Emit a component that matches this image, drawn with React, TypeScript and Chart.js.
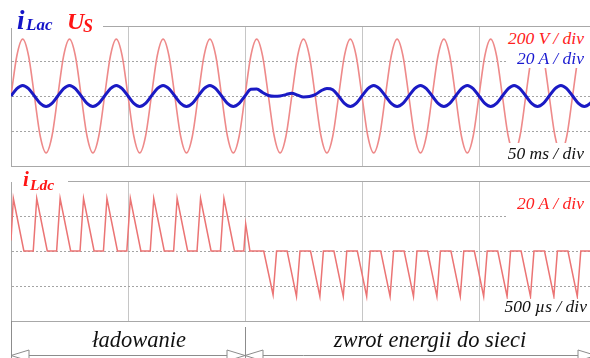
import React, { useEffect, useRef } from "react";
import { Chart, registerables } from "chart.js";

Chart.register(...registerables);

// ---------- Top panel: grid voltage U_S and AC current i_Lac (50 ms/div) ----------
const AC_SAMPLE_STEP_MS = 2.5; // one sample every 45 degrees of the 50 Hz wave
const AC_X_MAX_MS = 250;
const AC_X_STEP_MS = 50;
const VOLT_PER_DIV = 200;
const AC_AMP_PER_DIV = 20;

const supplyVoltageV = [
  0, 230, 325, 230, 0, -230, -325, -230,
  0, 230, 325, 230, 0, -230, -325, -230,
  0, 230, 325, 230, 0, -230, -325, -230,
  0, 230, 325, 230, 0, -230, -325, -230,
  0, 230, 325, 230, 0, -230, -325, -230,
  0, 230, 325, 230, 0, -230, -325, -230,
  0, 230, 325, 230, 0, -230, -325, -230,
  0, 230, 325, 230, 0, -230, -325, -230,
  0, 230, 325, 230, 0, -230, -325, -230,
  0, 230, 325, 230, 0, -230, -325, -230,
  0, 230, 325, 230, 0, -230, -325, -230,
  0, 230, 325, 230, 0, -230, -325, -230,
  0, 230, 325, 230, 0,
];

const lineCurrentA = [
  0, 4.2, 6, 4.2, 0, -4.2, -6, -4.2,
  0, 4.2, 6, 4.2, 0, -4.2, -6, -4.2,
  0, 4.2, 6, 4.2, 0, -4.2, -6, -4.2,
  0, 4.2, 6, 4.2, 0, -4.2, -6, -4.2,
  0, 4.2, 6, 4.2, 0, -4.2, -6, -4.2,
  0, 3.8, 4.0, 2.0, 0.3, -0.2, 0, 0.8, 1.6, 0.5, -0.5, -0.3, 0.8, 3.0, 4.3, 3.6, 0, -4.2, -6,
  -4.2, 0, 4.2, 6, 4.2, 0, -4.2, -6,
  -4.2, 0, 4.2, 6, 4.2, 0, -4.2, -6,
  -4.2, 0, 4.2, 6, 4.2, 0, -4.2, -6,
  -4.2, 0, 4.2, 6, 4.2, 0, -4.2, -6,
  -4.2, 0, 4.2, 6, 4.2, 0, -4.2, -6,
  -4.2, 0,
];

const acTimeMs = supplyVoltageV.map((_, i) => i * AC_SAMPLE_STEP_MS);

// ---------- Bottom panel: DC inductor current i_Ldc (500 us/div) ----------
const DC_X_MAX_US = 2500;
const DC_X_STEP_US = 500;
const DC_AMP_PER_DIV = 20;
const PHASE_BOUNDARY_US = 1000;

const dcTimeUs = [
  0,
  10, 55, 95,
  110, 155, 195,
  210, 255, 295,
  310, 355, 395,
  410, 455, 495,
  510, 555, 595,
  610, 655, 695,
  710, 755, 795,
  810, 855, 895,
  910, 955, 995,
  1003, 1021,
  1080, 1120, 1135,
  1180, 1220, 1235,
  1280, 1320, 1335,
  1380, 1420, 1435,
  1480, 1520, 1535,
  1580, 1620, 1635,
  1680, 1720, 1735,
  1780, 1820, 1835,
  1880, 1920, 1935,
  1980, 2020, 2035,
  2080, 2120, 2135,
  2180, 2220, 2235,
  2280, 2320, 2335,
  2380, 2420, 2435,
  2480, 2500,
];

const dcCurrentA = [
  6,
  30, 0, 0,
  30, 0, 0,
  30, 0, 0,
  30, 0, 0,
  30, 0, 0,
  30, 0, 0,
  30, 0, 0,
  30, 0, 0,
  30, 0, 0,
  30, 0, 0,
  15.5, 0,
  0, -25, 0,
  0, -26, 0,
  0, -26, 0,
  0, -26, 0,
  0, -26, 0,
  0, -26, 0,
  0, -26, 0,
  0, -26, 0,
  0, -26, 0,
  0, -26, 0,
  0, -26, 0,
  0, -26, 0,
  0, -26, 0,
  0, -26, 0,
  0, -13,
];

const PHASE_LABELS = ["ładowanie", "zwrot energii do sieci"];

const SERIF = '"Liberation Serif", "Times New Roman", serif';
const GRID_SOLID = "#c6c6c6";
const GRID_DOT = "#a4a4a4";
const BORDER = "#a8a8a8";

function gridColorSkippingEdges(limit: number) {
  return (c: any) =>
    c.tick && Math.abs(c.tick.value) >= limit ? "rgba(0,0,0,0)" : GRID_DOT;
}

const phaseArrowsPlugin = {
  id: "phaseArrows",
  afterDraw(chart: any) {
    const { ctx, chartArea } = chart;
    const xs = chart.scales.x;
    const x0 = xs.getPixelForValue(0);
    const x1 = xs.getPixelForValue(PHASE_BOUNDARY_US);
    const x2 = xs.getPixelForValue(DC_X_MAX_US);
    const y = chartArea.bottom + 34.5;
    const bottom = chart.height;
    ctx.save();
    ctx.strokeStyle = "#8c8c8c";
    ctx.lineWidth = 1;
    ctx.beginPath();
    ctx.moveTo(Math.round(x0) + 0.5, chartArea.bottom);
    ctx.lineTo(Math.round(x0) + 0.5, bottom);
    ctx.moveTo(Math.round(x1) + 0.5, chartArea.bottom + 6);
    ctx.lineTo(Math.round(x1) + 0.5, bottom);
    ctx.moveTo(x0, y);
    ctx.lineTo(x2, y);
    ctx.stroke();
    const head = (tip: number, dir: number) => {
      const len = 18;
      const half = 5.5;
      ctx.beginPath();
      ctx.moveTo(tip, y);
      ctx.lineTo(tip - dir * len, y - half);
      ctx.lineTo(tip - dir * len, y + half);
      ctx.closePath();
      ctx.fillStyle = "#ffffff";
      ctx.fill();
      ctx.stroke();
    };
    head(x0, -1);
    head(x1, 1);
    head(x1, -1);
    head(x2, 1);
    ctx.restore();
  },
};

function TopChart() {
  const ref = useRef<HTMLCanvasElement | null>(null);
  useEffect(() => {
    if (!ref.current) return;
    const chart = new Chart(ref.current, {
      type: "line",
      data: {
        datasets: [
          {
            label: "iLac",
            data: acTimeMs.map((x, i) => ({ x, y: lineCurrentA[i] })),
            yAxisID: "yI",
            borderColor: "#1a1ac4",
            borderWidth: 3,
            pointRadius: 0,
            cubicInterpolationMode: "monotone",
            order: 1,
          },
          {
            label: "US",
            data: acTimeMs.map((x, i) => ({ x, y: supplyVoltageV[i] })),
            yAxisID: "yV",
            borderColor: "#ee8a8a",
            borderWidth: 1.6,
            pointRadius: 0,
            cubicInterpolationMode: "monotone",
            order: 2,
          },
        ],
      },
      options: {
        responsive: false,
        animation: false,
        devicePixelRatio: 1,
        layout: { padding: { left: 11, top: 26, right: 4, bottom: 6 } },
        plugins: { legend: { display: false }, tooltip: { enabled: false } },
        scales: {
          x: {
            type: "linear",
            min: 0,
            max: AC_X_MAX_MS,
            ticks: { display: false, stepSize: AC_X_STEP_MS },
            grid: { color: GRID_SOLID, drawTicks: false },
            border: { display: true, color: BORDER },
          },
          xTop: {
            type: "linear",
            position: "top",
            min: 0,
            max: AC_X_MAX_MS,
            ticks: { display: false },
            grid: { display: false, drawTicks: false },
            border: { display: true, color: BORDER },
          },
          yV: {
            type: "linear",
            position: "left",
            min: -2 * VOLT_PER_DIV,
            max: 2 * VOLT_PER_DIV,
            ticks: { display: false, stepSize: VOLT_PER_DIV },
            grid: { color: gridColorSkippingEdges(2 * VOLT_PER_DIV), drawTicks: false },
            border: { display: true, color: BORDER, dash: [2, 2] },
          },
          yI: {
            type: "linear",
            display: false,
            min: -2 * AC_AMP_PER_DIV,
            max: 2 * AC_AMP_PER_DIV,
          },
        },
      } as any,
    });
    return () => chart.destroy();
  }, []);
  return (
    <canvas
      ref={ref}
      width={600}
      height={172}
      style={{ position: "absolute", left: 0, top: 0, width: 600, height: 172 }}
    />
  );
}

function BottomChart() {
  const ref = useRef<HTMLCanvasElement | null>(null);
  useEffect(() => {
    if (!ref.current) return;
    const chart = new Chart(ref.current, {
      type: "line",
      data: {
        datasets: [
          {
            label: "iLdc",
            data: dcTimeUs.map((x, i) => ({ x, y: dcCurrentA[i] })),
            borderColor: "#eb7474",
            borderWidth: 1.5,
            pointRadius: 0,
            tension: 0,
          },
        ],
      },
      options: {
        responsive: false,
        animation: false,
        devicePixelRatio: 1,
        layout: { padding: { left: 11, top: 11, right: 4, bottom: 37 } },
        plugins: { legend: { display: false }, tooltip: { enabled: false } },
        scales: {
          x: {
            type: "linear",
            min: 0,
            max: DC_X_MAX_US,
            ticks: { display: false, stepSize: DC_X_STEP_US },
            grid: { color: GRID_SOLID, drawTicks: false },
            border: { display: true, color: BORDER },
          },
          xTop: {
            type: "linear",
            position: "top",
            min: 0,
            max: DC_X_MAX_US,
            ticks: { display: false },
            grid: { display: false, drawTicks: false },
            border: { display: true, color: BORDER },
          },
          y: {
            type: "linear",
            position: "left",
            min: -2 * DC_AMP_PER_DIV,
            max: 2 * DC_AMP_PER_DIV,
            ticks: { display: false, stepSize: DC_AMP_PER_DIV },
            grid: { color: gridColorSkippingEdges(2 * DC_AMP_PER_DIV), drawTicks: false },
            border: { display: true, color: BORDER, dash: [2, 2] },
          },
        },
      } as any,
      plugins: [phaseArrowsPlugin],
    });
    return () => chart.destroy();
  }, []);
  return (
    <canvas
      ref={ref}
      width={600}
      height={188}
      style={{ position: "absolute", left: 0, top: 170, width: 600, height: 188 }}
    />
  );
}

const txt = (s: React.CSSProperties): React.CSSProperties => ({
  position: "absolute",
  fontFamily: SERIF,
  fontStyle: "italic",
  whiteSpace: "nowrap",
  lineHeight: 1,
  margin: 0,
  ...s,
});

const box = (left: number, top: number, width: number, height: number): React.CSSProperties => ({
  position: "absolute",
  left,
  top,
  width,
  height,
  background: "#ffffff",
});

export default function App() {
  return (
    <div
      style={{
        position: "fixed",
        left: 0,
        top: 0,
        width: 590,
        height: 358,
        overflow: "hidden",
        background: "#ffffff",
      }}
    >
      <TopChart />
      <BottomChart />

      {/* white label boxes */}
      <div style={box(0, 0, 103, 28)} />
      <div style={box(506, 28, 90, 40)} />
      <div style={box(505, 143, 90, 22)} />
      <div style={box(8, 167, 60, 15)} />
      <div style={box(508, 196, 90, 24)} />
      <div style={box(500, 299, 96, 19)} />

      {/* top panel labels */}
      <div style={txt({ left: 17, top: 7, fontSize: 27, fontWeight: 700, color: "#1414c8" })}>i</div>
      <div style={txt({ left: 26, top: 16, fontSize: 17, fontWeight: 700, color: "#1414c8" })}>Lac</div>
      <div style={txt({ left: 67, top: 9, fontSize: 24, fontWeight: 700, color: "#ff1414" })}>U</div>
      <div style={txt({ left: 83, top: 17, fontSize: 18, fontWeight: 700, color: "#ff1414" })}>S</div>

      <div style={txt({ right: 6, top: 30, fontSize: 17.5, color: "#ff2020" })}>200 V / div</div>
      <div style={txt({ right: 6, top: 50, fontSize: 17.5, color: "#1a1ad0" })}>20 A / div</div>
      <div style={txt({ right: 6, top: 145, fontSize: 17.5, color: "#111111" })}>50 ms / div</div>

      {/* bottom panel labels */}
      <div style={txt({ left: 23, top: 169, fontSize: 21, fontWeight: 700, color: "#ff1414" })}>i</div>
      <div style={txt({ left: 30, top: 177, fontSize: 15.5, fontWeight: 700, color: "#ff1414" })}>Ldc</div>
      <div style={txt({ right: 6, top: 195, fontSize: 17.5, color: "#ff2020" })}>20 A / div</div>
      <div style={txt({ right: 3, top: 298, fontSize: 17.5, color: "#111111" })}>500 µs / div</div>

      {/* phase labels */}
      <div style={txt({ left: 139, top: 329, fontSize: 22.5, color: "#111111", transform: "translateX(-50%)" })}>
        {PHASE_LABELS[0]}
      </div>
      <div style={txt({ left: 430, top: 329, fontSize: 22.5, color: "#111111", transform: "translateX(-50%)" })}>
        {PHASE_LABELS[1]}
      </div>
    </div>
  );
}
